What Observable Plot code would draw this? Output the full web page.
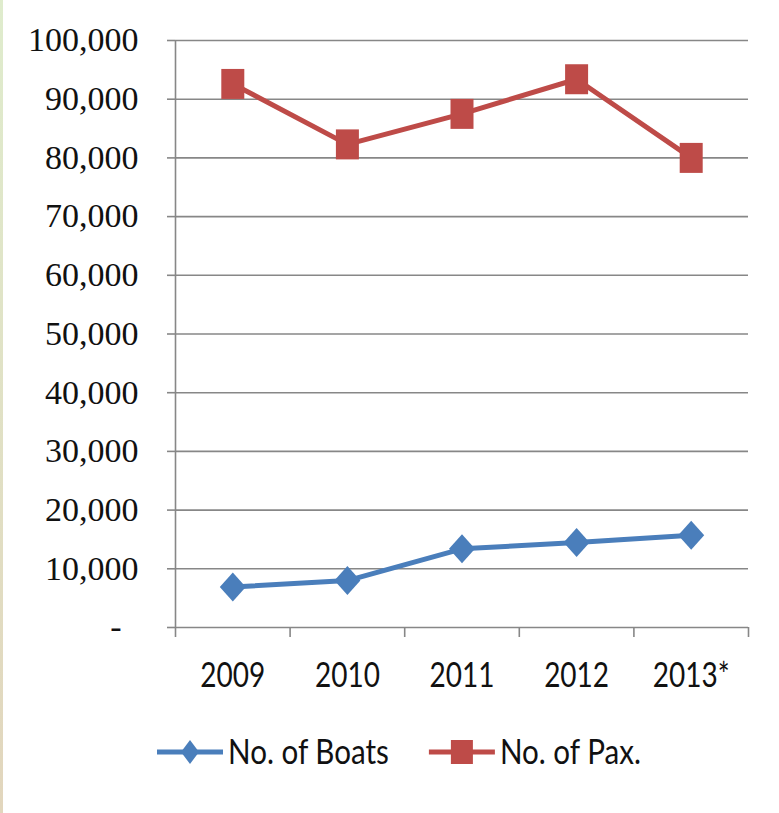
<!DOCTYPE html>
<html>
<head>
<meta charset="utf-8">
<script src="https://cdn.jsdelivr.net/npm/d3@7"></script>
<script src="https://cdn.jsdelivr.net/npm/@observablehq/plot@0.6"></script>
<style>
  html, body { margin: 0; padding: 0; background: #fff; }
  body { width: 779px; height: 813px; position: relative; overflow: hidden; }
  #edge { position: absolute; left: 0; top: 0; width: 3px; height: 813px;
          background: linear-gradient(#dfeccd, #e2d6bd); }
  #legend { position: absolute; left: 0; top: 730px; }
  #legend svg { display: block; }
</style>
</head>
<body>
<div id="edge"></div>
<div id="chart"></div>
<div id="legend"></div>
<script>
const years = ["2009", "2010", "2011", "2012", "2013*"];
const boats = [6900, 8000, 13400, 14500, 15700];
const pax = [92600, 82300, 87500, 93400, 80000];
const yTicks = [0, 10000, 20000, 30000, 40000, 50000, 60000, 70000, 80000, 90000, 100000];
const seriesNames = ["No. of Boats", "No. of Pax."];
const colors = ["#4A7EBB", "#BE4B48"];

const boatData = years.map((year, i) => ({pos: i + 0.5, year, value: boats[i]}));
const paxData = years.map((year, i) => ({pos: i + 0.5, year, value: pax[i]}));
const boundaries = d3.range(years.length + 1);
const centers = years.map((_, i) => i + 0.5);

const squareSymbol = {draw(ctx) { ctx.rect(-11.5, -15, 23, 30); }};
const diamondSymbol = {draw(ctx) {
  ctx.moveTo(0, -14.5); ctx.lineTo(13, 0); ctx.lineTo(0, 14.5); ctx.lineTo(-13, 0); ctx.closePath();
}};

const grid = "#878787";
const fmt = d3.format(",");
const sansFont = "Lato, 'DejaVu Sans Condensed', sans-serif";

const chart = Plot.plot({
  width: 779,
  height: 705,
  marginLeft: 175,
  marginRight: 31,
  marginTop: 40,
  marginBottom: 78,
  x: {type: "linear", domain: [0, years.length]},
  y: {type: "linear", domain: [0, 100000]},
  marks: [
    Plot.gridY(yTicks, {stroke: grid, strokeOpacity: 1, strokeWidth: 1.6}),
    Plot.axisY(yTicks, {
      tickSize: 8, tickPadding: 29, stroke: grid, strokeWidth: 1.6,
      tickFormat: d => d === 0 ? "-\u00a0\u00a0" : fmt(d),
      fontFamily: "Liberation Serif, serif", fontSize: 34, fill: "#111", label: null
    }),
    Plot.ruleX([0], {stroke: grid, strokeWidth: 1.6}),
    Plot.axisX(boundaries, {tickSize: 10, stroke: grid, strokeWidth: 1.6, tickFormat: () => "", label: null}),
    Plot.axisX(centers, {
      tickSize: 0, tickPadding: 35, tickFormat: d => years[Math.floor(d)],
      fontFamily: sansFont, fontSize: 35, fill: "#111", label: null
    }),
    Plot.line(paxData, {x: "pos", y: "value", stroke: colors[1], strokeWidth: 5}),
    Plot.dot(paxData, {x: "pos", y: "value", symbol: squareSymbol, fill: colors[1], stroke: "none", r: 12}),
    Plot.line(boatData, {x: "pos", y: "value", stroke: colors[0], strokeWidth: 5}),
    Plot.dot(boatData, {x: "pos", y: "value", symbol: diamondSymbol, fill: colors[0], stroke: "none", r: 12})
  ]
});
document.getElementById("chart").appendChild(chart);

// The reference text is horizontally narrow: compress glyphs.
function narrow(sel, factor) {
  sel.each(function() {
    const len = this.getComputedTextLength();
    if (len > 0) {
      this.setAttribute("textLength", len * factor);
      this.setAttribute("lengthAdjust", "spacingAndGlyphs");
    }
  });
}
narrow(d3.select(chart).selectAll("g[aria-label='x-axis tick label'] text"), 0.8);

// Legend
const lsvg = d3.select("#legend").append("svg").attr("width", 779).attr("height", 50);
let x0 = 157;
const cy = 22;
seriesNames.forEach((name, i) => {
  const g = lsvg.append("g");
  g.append("line").attr("x1", x0).attr("x2", x0 + 66).attr("y1", cy).attr("y2", cy)
    .attr("stroke", colors[i]).attr("stroke-width", 5);
  if (i === 0) {
    g.append("path").attr("d", `M${x0 + 33},${cy - 12}L${x0 + 42},${cy}L${x0 + 33},${cy + 12}L${x0 + 24},${cy}Z`).attr("fill", colors[i]);
  } else {
    g.append("rect").attr("x", x0 + 22).attr("y", cy - 12).attr("width", 22).attr("height", 24).attr("fill", colors[i]);
  }
  const t = g.append("text").attr("x", x0 + 71).attr("y", cy).attr("dy", "0.36em")
    .attr("font-family", sansFont).attr("font-size", 34).attr("fill", "#111").text(name);
  narrow(t, 0.87);
  const w = t.node().getComputedTextLength();
  x0 = x0 + 71 + w + 40;
});
</script>
</body>
</html>
